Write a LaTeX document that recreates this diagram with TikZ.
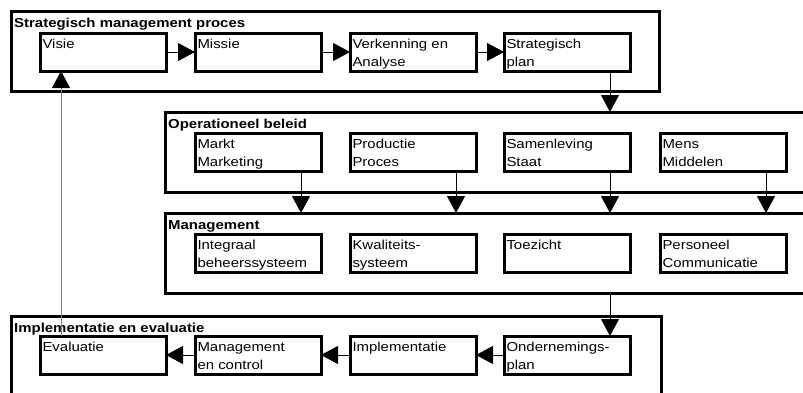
\documentclass[tikz,border=0pt]{standalone}
\usepackage{fontspec}
\setmainfont{Liberation Sans}[FakeStretch=1.15]
\usetikzlibrary{arrows.meta}
\newcommand\bt[1]{\parbox[t][35pt][t]{121pt}{\rule{0pt}{14pt}#1}}
\begin{document}
\begin{tikzpicture}[x=1pt,y=-1pt,
  outer/.style={draw, line width=3pt, inner sep=0pt, outer sep=0pt, anchor=north west},
  inbox/.style={draw, line width=3pt, inner xsep=2.5pt, inner ysep=1.5pt, outer sep=0pt, anchor=north west, font=\fontsize{13}{18}\selectfont},
  ttl/.style={anchor=base west, inner sep=0pt, font=\fontsize{13}{15}\selectfont\bfseries},
  conn/.style={line width=1pt, -{Triangle[length=17pt,width=18pt]}},
  fback/.style={line width=1pt, black!50, -{Triangle[length=17pt,width=18pt,color=black]}}
]
\useasboundingbox (0,0) rectangle (803,392);
\fill[white] (0,0) rectangle (803,392);
% outer frames
\node[outer, minimum width=648pt, minimum height=80pt] (smp) at (11,11) {};
\node[outer, minimum width=650pt, minimum height=80pt] (opb) at (165,112) {};
\node[outer, minimum width=650pt, minimum height=80pt] (mgt) at (165,213) {};
\node[outer, minimum width=650pt, minimum height=90pt] (ime) at (11,316) {};
% titles
\node[ttl] (smpt) at ([shift={(3pt,-16pt)}]smp.north west) {Strategisch management proces};
\node[ttl] (opbt) at ([shift={(3pt,-16pt)}]opb.north west) {Operationeel beleid};
\node[ttl] (mgtt) at ([shift={(3pt,-16pt)}]mgt.north west) {Management};
\node[ttl] (imet) at ([shift={(3pt,-16pt)}]ime.north west) {Implementatie en evaluatie};
% row 1
\node[inbox] (visie) at (40,33) {\bt{Visie}};
\node[inbox] (missie) at (195,33) {\bt{Missie}};
\node[inbox] (verk) at (350,33) {\bt{Verkenning en\\Analyse}};
\node[inbox] (strat) at (504,33) {\bt{Strategisch\\plan}};
% row 2
\node[inbox] (markt) at (195,133) {\bt{Markt\\Marketing}};
\node[inbox] (prod) at (350,133) {\bt{Productie\\Proces}};
\node[inbox] (samen) at (504,133) {\bt{Samenleving\\Staat}};
\node[inbox] (mens) at (660,133) {\bt{Mens\\Middelen}};
% row 3
\node[inbox] (integ) at (195,234) {\bt{Integraal\\beheerssysteem}};
\node[inbox] (kwal) at (350,234) {\bt{Kwaliteits-\\systeem}};
\node[inbox] (toez) at (504,234) {\bt{Toezicht}};
\node[inbox] (pers) at (660,234) {\bt{Personeel\\Communicatie}};
% row 4
\node[inbox] (eval) at (40,336) {\bt{Evaluatie}};
\node[inbox] (mc) at (195,336) {\bt{Management\\en control}};
\node[inbox] (impl) at (350,336) {\bt{Implementatie}};
\node[inbox] (ond) at (504,336) {\bt{Ondernemings-\\plan}};
% connectors row 1
\draw[conn] (visie) -- (missie);
\draw[conn] (missie) -- (verk);
\draw[conn] (verk) -- (strat);
% strategic plan -> operationeel
\coordinate (sa) at ([xshift=-20pt]strat.south east);
\draw[conn] (sa) -- (sa |- opb.north);
% operationeel -> management
\coordinate (ma) at ([xshift=-20pt]markt.south east);
\coordinate (pa) at ([xshift=-20pt]prod.south east);
\coordinate (na) at ([xshift=-20pt]samen.south east);
\coordinate (ea) at ([xshift=-20pt]mens.south east);
\draw[conn] (ma) -- (ma |- mgt.north);
\draw[conn] (pa) -- (pa |- mgt.north);
\draw[conn] (na) -- (na |- mgt.north);
\draw[conn] (ea) -- (ea |- mgt.north);
% management -> ondernemingsplan
\coordinate (oa) at ([xshift=-20pt]ond.north east);
\draw[conn] (oa |- mgt.south) -- (oa);
% row 4
\draw[conn] (ond) -- (impl);
\draw[conn] (impl) -- (mc);
\draw[conn] (mc) -- (eval);
% feedback
\coordinate (fb) at ([xshift=21pt]visie.south west);
\draw[fback] (fb |- eval.north) -- (fb);
\end{tikzpicture}
\end{document}
